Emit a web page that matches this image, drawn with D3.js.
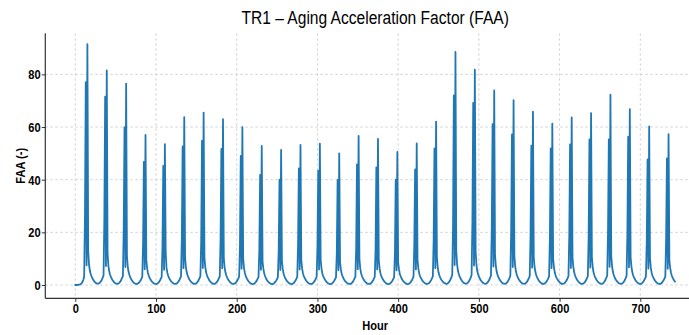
<!DOCTYPE html>
<html>
<head>
<meta charset="utf-8">
<script src="https://cdn.jsdelivr.net/npm/d3@7"></script>
<style>
  html, body { margin: 0; padding: 0; background: #fff; }
  svg { display: block; }
  text { font-family: "Liberation Sans", Arial, sans-serif; }
</style>
</head>
<body>
<svg id="chart" width="689" height="335"></svg>
<script>
// ---- data: FAA per hour, one row per day (hours 0..23) ----
const day00 = [0.0,0.0,0.0,0.05,0.1,0.15,0.25,0.4,0.7,1.2,2.0,3.2,26.5,77,7.5,91.5,13,7.8,5.6,4.3,3.4,2.7,2.1,1.6];
const day01 = [1.2,0.9,0.7,0.55,0.5,0.55,0.75,1.1,1.5,2.1,2.8,3.6,24.7,71.5,7.2,81.5,12,7.4,5.3,4.0,3.2,2.5,1.9,1.5];
const day02 = [1.1,0.8,0.6,0.5,0.45,0.5,0.7,1.0,1.4,2.0,2.7,3.4,21,60,6.8,76.5,11,7.0,5.0,3.9,3.0,2.4,1.8,1.4];
const day03 = [1.0,0.75,0.55,0.45,0.4,0.45,0.65,0.95,1.3,1.8,2.4,3.1,16,46.8,6.0,57,9.5,6.4,4.6,3.6,2.8,2.2,1.7,1.3];
const day04 = [1.0,0.7,0.5,0.4,0.4,0.45,0.6,0.9,1.3,1.8,2.4,3.0,14.3,45.2,5.8,53.5,12.7,6.6,4.7,3.6,2.8,2.2,1.7,1.3];
const day05 = [1.0,0.75,0.55,0.45,0.4,0.5,0.65,1.0,1.4,1.9,2.6,3.3,17.6,52.6,6.4,63.8,10.5,6.8,4.9,3.8,3.0,2.3,1.8,1.4];
const day06 = [1.05,0.8,0.6,0.45,0.4,0.5,0.7,1.0,1.4,2.0,2.6,3.4,16.8,54.8,6.5,65.5,10.5,6.9,4.9,3.8,3.0,2.4,1.8,1.4];
const day07 = [1.05,0.8,0.6,0.45,0.4,0.5,0.7,1.0,1.4,1.9,2.6,3.3,17.5,51.7,6.4,63,10,6.7,4.8,3.7,2.9,2.3,1.8,1.4];
const day08 = [1.0,0.75,0.55,0.45,0.4,0.45,0.65,0.95,1.35,1.9,2.5,3.2,14.8,49,6.2,60,10,6.5,4.7,3.6,2.8,2.2,1.7,1.3];
const day09 = [0.95,0.7,0.5,0.4,0.35,0.4,0.6,0.9,1.3,1.8,2.4,3.0,13,41.8,5.8,52.8,9,6.2,4.5,3.5,2.7,2.1,1.6,1.25];
const day10 = [0.95,0.7,0.5,0.4,0.35,0.4,0.6,0.9,1.25,1.75,2.3,3.0,13,40,5.7,51.3,9,6.1,4.4,3.4,2.7,2.1,1.6,1.25];
const day11 = [0.95,0.7,0.5,0.4,0.35,0.45,0.6,0.9,1.3,1.8,2.4,3.1,15.4,44.3,5.9,53.2,9.5,6.3,4.5,3.5,2.8,2.2,1.7,1.3];
const day12 = [1.0,0.7,0.5,0.4,0.4,0.45,0.6,0.9,1.3,1.8,2.4,3.1,14,43.4,5.9,53.7,9.5,6.3,4.5,3.5,2.8,2.2,1.7,1.3];
const day13 = [0.95,0.7,0.5,0.4,0.35,0.4,0.6,0.85,1.25,1.7,2.3,2.9,12.3,39.9,5.6,50,8.5,6.0,4.3,3.4,2.7,2.1,1.6,1.25];
const day14 = [0.95,0.7,0.5,0.4,0.4,0.45,0.6,0.9,1.3,1.85,2.5,3.1,13.9,45.8,6.0,56.6,10,6.4,4.6,3.6,2.8,2.2,1.7,1.3];
const day15 = [1.0,0.7,0.5,0.4,0.4,0.45,0.6,0.9,1.3,1.8,2.4,3.1,13.2,44.7,5.9,55.5,9.5,6.3,4.5,3.5,2.8,2.2,1.7,1.3];
const day16 = [0.95,0.7,0.5,0.4,0.35,0.4,0.6,0.85,1.25,1.7,2.3,2.9,12,40,5.6,50.6,8.5,6.0,4.3,3.4,2.7,2.1,1.6,1.25];
const day17 = [0.95,0.7,0.5,0.4,0.35,0.45,0.6,0.9,1.3,1.8,2.4,3.1,15,43.9,5.9,53.8,9.5,6.3,4.5,3.5,2.8,2.2,1.7,1.3];
const day18 = [1.0,0.75,0.55,0.45,0.4,0.5,0.65,1.0,1.4,1.95,2.6,3.3,17.3,51.9,6.4,62,10.5,6.8,4.8,3.7,2.9,2.3,1.8,1.4];
const day19 = [1.1,0.8,0.6,0.5,0.45,0.55,0.75,1.1,1.6,2.2,3.0,3.9,22.1,72,7.6,88.5,13,7.8,5.6,4.3,3.4,2.7,2.1,1.6];
const day20 = [1.2,0.9,0.7,0.55,0.5,0.55,0.8,1.1,1.6,2.2,2.9,3.8,24,69.2,7.4,81.8,12.5,7.6,5.4,4.1,3.3,2.6,2.0,1.55];
const day21 = [1.15,0.85,0.65,0.5,0.45,0.55,0.75,1.05,1.5,2.1,2.8,3.6,21.5,61.1,7.0,73.9,11.5,7.3,5.2,4.0,3.1,2.5,1.9,1.5];
const day22 = [1.1,0.8,0.6,0.5,0.45,0.5,0.7,1.0,1.45,2.0,2.7,3.5,20.2,57.2,6.8,70.2,11,7.1,5.1,3.9,3.1,2.4,1.9,1.45];
const day23 = [1.1,0.8,0.6,0.5,0.45,0.5,0.7,1.0,1.4,2.0,2.6,3.4,18.1,52.9,6.6,65.8,10.5,6.9,5.0,3.8,3.0,2.4,1.8,1.4];
const day24 = [1.05,0.8,0.6,0.45,0.4,0.5,0.7,1.0,1.4,1.95,2.6,3.3,18,51.9,6.4,61.3,10,6.8,4.8,3.7,2.9,2.3,1.8,1.4];
const day25 = [1.05,0.8,0.6,0.45,0.4,0.5,0.7,1.0,1.4,2.0,2.6,3.4,18.4,53.4,6.5,63.7,10.5,6.9,4.9,3.8,3.0,2.3,1.8,1.4];
const day26 = [1.05,0.8,0.6,0.45,0.4,0.5,0.7,1.0,1.4,2.0,2.6,3.4,18.4,55.3,6.6,65.3,10.5,6.9,4.9,3.8,3.0,2.4,1.8,1.4];
const day27 = [1.1,0.8,0.6,0.5,0.45,0.5,0.7,1.05,1.5,2.1,2.8,3.6,20,55.3,6.9,72.3,11,7.2,5.1,3.9,3.1,2.4,1.9,1.45];
const day28 = [1.1,0.8,0.6,0.5,0.45,0.5,0.7,1.0,1.45,2.0,2.7,3.5,19.6,56.3,6.7,66.8,10.5,7.0,5.0,3.8,3.0,2.4,1.8,1.4];
const day29 = [1.05,0.8,0.6,0.45,0.4,0.5,0.7,1.0,1.4,1.9,2.6,3.3,16.4,47.7,6.2,60.2,10,6.6,4.7,3.6,2.9,2.3,1.7,1.35];
const day30 = [1.0,0.75,0.55,0.45,0.4,0.45,0.65,1.0,1.4,1.9,2.5,3.2,17.7,48.1,6.2,57.3,9.5,6.5,4.7,3.6,2.8,2.2,1.7,1.3];

const days = [day00,day01,day02,day03,day04,day05,day06,day07,day08,day09,day10,
              day11,day12,day13,day14,day15,day16,day17,day18,day19,day20,
              day21,day22,day23,day24,day25,day26,day27,day28,day29,day30];
const faa = days.flat();
const hours = faa.map((_, i) => i);

const xTicks = [0, 100, 200, 300, 400, 500, 600, 700];
const yTicks = [0, 20, 40, 60, 80];
const titleText = "TR1 \u2013 Aging Acceleration Factor (FAA)";
const xLabel = "Hour";
const yLabel = "FAA (-)";

// ---- layout ----
const svg = d3.select("#chart");
const padL = 45.3, padR = 705, padT = 33.3, padB = 298.3;
const squeeze = 0.82; // narrow (condensed) lettering
const nPts = faa.length;
const xPad = (nPts - 1) * 0.05;
const x = d3.scaleLinear().domain([-xPad, (nPts - 1) + xPad]).range([padL, padR]);
const y = d3.scaleLinear().domain([-5.05, 95.6]).range([padB, padT]);

// grid
const grid = svg.append("g");
grid.selectAll("line.vg").data(xTicks).join("line")
  .attr("x1", d => x(d)).attr("x2", d => x(d))
  .attr("y1", padT).attr("y2", padB)
  .attr("stroke", "#c8c8c8").attr("stroke-width", 0.8).attr("stroke-dasharray", "2.5,2.5");
grid.selectAll("line.hg").data(yTicks).join("line")
  .attr("x1", padL).attr("x2", padR)
  .attr("y1", d => y(d)).attr("y2", d => y(d))
  .attr("stroke", "#c8c8c8").attr("stroke-width", 0.8).attr("stroke-dasharray", "2.5,2.5");

// line
const line = d3.line().x((d, i) => x(hours[i])).y(d => y(d));
svg.append("path").datum(faa)
  .attr("d", line)
  .attr("fill", "none").attr("stroke", "#1f77b4")
  .attr("stroke-width", 1.8).attr("stroke-linejoin", "round").attr("stroke-linecap", "round");

// axes
const xAxis = d3.axisBottom(x).tickValues(xTicks).tickSize(3.5).tickPadding(2).tickFormat(d3.format("d"));
const yAxis = d3.axisLeft(y).tickValues(yTicks).tickSize(3.5).tickPadding(1.2).tickFormat(d3.format("d"));
const gx = svg.append("g").attr("transform", `translate(0,${padB})`).call(xAxis);
const gy = svg.append("g").attr("transform", `translate(${padL},0)`).call(yAxis);
[gx, gy].forEach(g => {
  g.select(".domain").remove();
  g.selectAll(".tick line").attr("stroke", "#333").attr("stroke-width", 1);
  g.selectAll(".tick text")
    .attr("font-family", "'Liberation Sans', Arial, sans-serif")
    .attr("font-size", 13.5).attr("font-weight", "bold").attr("fill", "#000")
    .attr("x", function() { return (+d3.select(this).attr("x") || 0) / squeeze; })
    .attr("transform", `scale(${squeeze},1)`);
});
svg.append("line").attr("x1", padL).attr("x2", padL).attr("y1", padT).attr("y2", padB)
  .attr("stroke", "#333").attr("stroke-width", 1.2);
svg.append("line").attr("x1", padL).attr("x2", padR).attr("y1", padB).attr("y2", padB)
  .attr("stroke", "#333").attr("stroke-width", 1.2);

// labels
svg.append("text")
  .attr("transform", `translate(${(padL + padR) / 2},24) scale(${squeeze},1)`)
  .attr("text-anchor", "middle").attr("font-size", 19).attr("fill", "#000")
  .text(titleText);
svg.append("text")
  .attr("transform", `translate(${(padL + padR) / 2},330) scale(${squeeze},1)`)
  .attr("text-anchor", "middle").attr("font-size", 13.5).attr("font-weight", "bold").attr("fill", "#000")
  .text(xLabel);
svg.append("text")
  .attr("transform", `translate(24.5,${(padT + padB) / 2}) rotate(-90) scale(${squeeze},1)`)
  .attr("text-anchor", "middle").attr("font-size", 13.5).attr("font-weight", "bold").attr("fill", "#000")
  .text(yLabel);
</script>
</body>
</html>
